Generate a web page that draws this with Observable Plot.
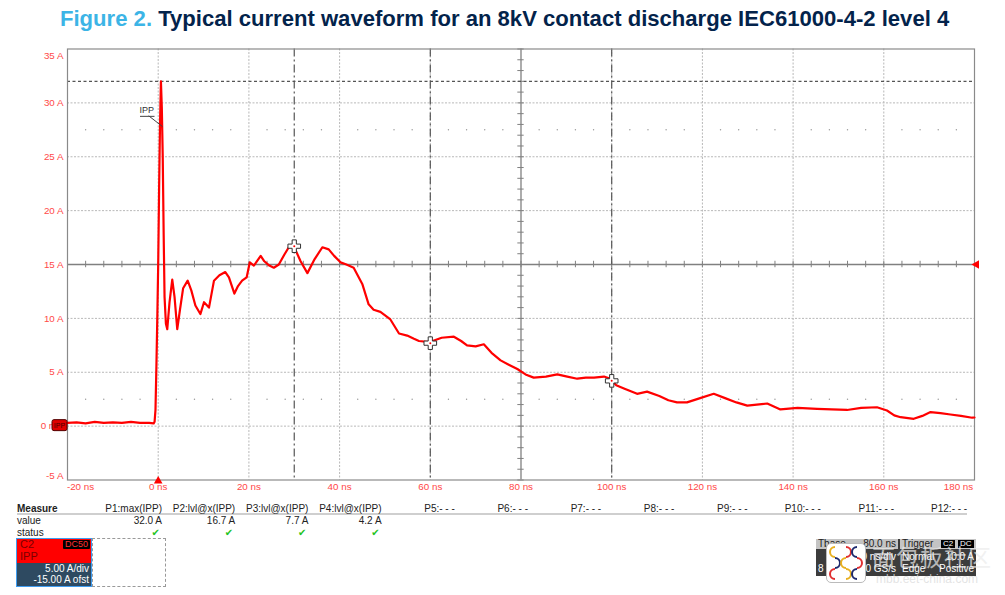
<!DOCTYPE html>
<html><head><meta charset="utf-8">
<script src="https://cdn.jsdelivr.net/npm/d3@7"></script>
<script src="https://cdn.jsdelivr.net/npm/@observablehq/plot@0.6"></script>
<style>
body{margin:0;background:#fff;font-family:"Liberation Sans",Arial,sans-serif;}
#wrap{position:relative;width:1005px;height:595px;overflow:hidden;background:#fff;}
#title{position:absolute;left:60px;top:6px;white-space:nowrap;font-weight:bold;font-size:20px;line-height:26px;}
#chart{position:absolute;left:0;top:40px;}
.t{position:absolute;font-size:10px;line-height:12px;color:#222;white-space:nowrap;}
</style></head>
<body><div id="wrap">
<div id="title"><span style="color:#3cb4e6">Figure 2.</span> <span style="color:#03234b">Typical current waveform for an 8kV contact discharge IEC61000-4-2 level 4</span></div>
<div id="chart"></div>
</div>
<script>
// ---- waveform data (time in ns, current in A) ----
const timeNs = [-20,-18,-16,-14,-12,-10,-8,-6,-4,-2,-1,-0.8,-0.6,-0.4,-0.2,0.0,0.2,0.4,0.6,0.8,1.0,1.2,1.4,1.7,2.0,2.5,3.1,3.6,4.2,4.8,5.5,6.5,7.3,8.2,9.3,10.1,11.2,12.3,13.5,14.8,15.6,16.8,17.6,18.5,19.5,20.2,21.1,22.6,23.4,24.5,25.5,26.6,27.8,28.8,29.9,31.4,32.9,34.5,36.2,37.6,38.8,40.2,41.5,43.1,45.0,46.4,47.5,49.0,51.2,53.1,54.9,56.4,57.5,59.9,62.5,65.2,66.8,68.1,70.0,71.8,73.5,75.5,77.3,79.2,81.0,82.8,85.5,88.0,90.2,92.4,94.3,96.1,98.3,99.7,101.0,102.7,105.6,107.8,110.5,112.5,114.4,116.6,119.5,122.5,125.0,127.5,129.9,132.0,134.3,137.2,141.0,145.3,148.5,151.9,155.0,158.5,160.7,162.3,163.7,166.6,168.5,170.3,172.5,174.7,177.0,179.5,180.0];
const currentA = [0.3,0.35,0.25,0.4,0.3,0.35,0.3,0.4,0.3,0.3,0.25,0.4,1.5,5.5,10,15,22,28,32.0,29.5,25,18,12,9.5,9.0,11.5,13.6,12.0,9.0,10.8,12.8,13.5,12.6,11.2,10.4,11.5,11.0,13.5,14.0,14.3,13.8,12.3,13.0,13.5,13.8,15.2,14.9,15.8,15.3,14.9,14.7,15.0,15.9,16.6,16.7,15.3,14.2,15.5,16.6,16.4,15.8,15.2,15.0,14.7,13.2,11.3,10.8,10.6,9.9,8.6,8.4,8.1,7.9,7.8,8.2,8.3,7.9,7.5,7.4,7.6,6.8,6.1,5.7,5.3,4.8,4.5,4.6,4.8,4.6,4.4,4.5,4.5,4.6,4.4,3.8,3.5,3.0,3.2,2.8,2.4,2.2,2.2,2.6,3.0,2.6,2.2,1.9,2.0,2.1,1.55,1.7,1.6,1.55,1.5,1.7,1.75,1.45,1.0,0.83,0.68,0.95,1.3,1.2,1.08,0.95,0.78,0.8];

// ---- axes / grid values ----
const xTickValues = [-20,0,20,40,60,80,100,120,140,160,180];
const yTickValues = [35,30,25,20,15,10,5,0,-5];
const xGridValues = [0,20,40,60,100,120,140,160];
const yGridValues = [0,5,10,20,25,30];
const xCenter = 80, yCenter = 15;
const dotRowsA = [27.5,2.5];
const maxLevelA = 32.0;
const cursorTimesNs = [30,60,100];
const cursorLevelsA = [16.7,7.7,4.2];

// ---- measurement table ----
const measureHeaders = ["P1:max(IPP)","P2:lvl@x(IPP)","P3:lvl@x(IPP)","P4:lvl@x(IPP)","P5:- - -","P6:- - -","P7:- - -","P8:- - -","P9:- - -","P10:- - -","P11:- - -","P12:- - -"];
const measureValues = ["32.0 A","16.7 A","7.7 A","4.2 A"];
const channelInfo = ["C2","IPP","DC50","5.00 A/div","-15.00 A ofst"];
const timebaseInfo = ["Tbase","-80.0 ns","Trigger","C2","DC","20.0 ns/div","Normal","10.0 A","8 kS","40 GS/s","Edge","Positive"];

const data = timeNs.map((t,i)=>({t, a: currentA[i]}));
const minorX = d3.range(-20, 181, 4);
const minorXDots = minorX.filter(v => v % 20 !== 0);
const minorY = d3.range(-5, 35.01, 1);
const dotGrid = dotRowsA.flatMap(y => minorXDots.map(x => ({x, y})));
const cursors = cursorTimesNs.map((t,i)=>({t, a: cursorLevelsA[i]}));
const labRed = "#ff4848";
const yFmt = d => d === 0 ? "0 mA" : d + " A";

const chart = Plot.plot({
  width: 1005, height: 460,
  marginLeft: 67, marginRight: 31, marginTop: 8.5, marginBottom: 20.5,
  x: {domain: [-20, 180], axis: null},
  y: {domain: [-5, 35], axis: null},
  style: {fontFamily: "'Liberation Sans', Arial, sans-serif", fontSize: "9.8px", background: "transparent"},
  marks: [
    Plot.ruleX(xGridValues, {stroke: "#b8b8b8", strokeDasharray: "2,1.5", strokeWidth: 1}),
    Plot.ruleY(yGridValues, {stroke: "#b8b8b8", strokeDasharray: "2,1.5", strokeWidth: 1}),
    Plot.dot(dotGrid, {x: "x", y: "y", r: 0.7, fill: "#999", stroke: null}),
    Plot.ruleY([yCenter], {stroke: "#808080", strokeWidth: 1.3}),
    Plot.ruleX([xCenter], {stroke: "#808080", strokeWidth: 1.3}),
    Plot.ruleX(minorX, {x: d => d, y1: yCenter - 0.3, y2: yCenter + 0.3, stroke: "#808080"}),
    Plot.ruleY(minorY, {y: d => d, x1: xCenter - 0.7, x2: xCenter + 0.7, stroke: "#808080"}),
    Plot.ruleY([maxLevelA], {stroke: "#555", strokeDasharray: "3,2.5", strokeWidth: 1.1}),
    Plot.ruleX(cursorTimesNs, {stroke: "#555", strokeDasharray: "8,3,2,3", strokeWidth: 1.2}),
    Plot.frame({stroke: "#8a8a8a", strokeWidth: 1.2}),
    Plot.line(data, {x: "t", y: "a", stroke: "#ff0000", strokeWidth: 2.2, strokeLinejoin: "round", curve: "linear"}),
    Plot.dot(cursors, {x: "t", y: "a", symbol: "cross", r: 5.3, fill: "white", stroke: "#333", strokeWidth: 1}),
    Plot.dot(cursors, {x: "t", y: "a", r: 1, fill: "#ff0000", stroke: null}),
    // IPP annotation
    Plot.text(["IPP"], {x: -2.5, y: 29.3, text: d => d, fill: "#333", fontSize: 9}),
    Plot.ruleY([28.75], {x1: -3.9, x2: -0.7, stroke: "#444", strokeWidth: 1}),
    Plot.link([0], {x1: -2.1, y1: 28.8, x2: 0.95, y2: 27.8, stroke: "#444", strokeWidth: 1}),
    // y tick labels
    Plot.text(yTickValues.filter(d => d !== 35 && d !== -5), {x: -20, y: d => d, text: yFmt, textAnchor: "end", dx: -4, fill: labRed}),
    Plot.text([35], {x: -20, y: d => d, text: yFmt, textAnchor: "end", dx: -4, dy: 7, fill: labRed}),
    Plot.text([-5], {x: -20, y: d => d, text: yFmt, textAnchor: "end", dx: -4, dy: -4.5, fill: labRed}),
    // x tick labels
    Plot.text(xTickValues.filter(d => d !== -20 && d !== 180), {x: d => d, y: -5, text: d => d + " ns", dy: 7, fill: labRed}),
    Plot.text([-20], {x: d => d, y: -5, text: d => d + " ns", dy: 7, dx: 13, fill: labRed}),
    Plot.text([180], {x: d => d, y: -5, text: d => d + " ns", dy: 7, dx: -16, fill: labRed}),
    // markers: trigger position (bottom), trigger level (right)
    Plot.dot([0], {x: d => d, y: -5, symbol: "triangle", r: 3.2, fill: "#ff0000", stroke: null, dy: 1}),
    Plot.dot([15], {x: 180, y: d => d, symbol: "triangle", r: 3.2, fill: "#ff0000", stroke: null, rotate: -90, dx: 2})
  ]
});
document.getElementById("chart").appendChild(chart);

// fit title width to the reference span
const title = document.getElementById("title");
title.style.fontSize = (20 * 890 / title.getBoundingClientRect().width) + "px";

// channel zero badge on left edge
const svg = d3.select(chart);
const yz = chart.scale("y").apply(0), xl = chart.scale("x").apply(-20);
const badge = svg.append("g");
badge.append("rect").attr("x", xl - 15).attr("y", yz - 6).attr("width", 15).attr("height", 11).attr("rx", 2)
  .attr("fill", "#e00000").attr("stroke", "#500").attr("stroke-width", 1);
badge.append("text").attr("x", xl - 7.5).attr("y", yz + 2.5).attr("text-anchor", "middle")
  .attr("font-size", 7).attr("fill", "#400").text(channelInfo[1]);

// ---- HTML overlays: measurement table and info boxes ----
const wrap = document.getElementById("wrap");
function addDiv(html, css){ const d = document.createElement("div"); d.className = "t"; d.innerHTML = html; Object.assign(d.style, css); wrap.appendChild(d); return d; }
addDiv("Measure", {left: "17px", top: "503px", fontWeight: "bold"});
addDiv("", {left: "17px", top: "513px", width: "950px", height: "2px", background: "#cfcfcf"});
addDiv("value", {left: "17px", top: "515px"});
addDiv("status", {left: "17px", top: "527px"});
measureHeaders.forEach((h, i) => {
  const right = 162 + i * 73.2;
  addDiv(h, {left: (right - 100) + "px", width: "100px", textAlign: "right", top: "503px"});
  if (i < measureValues.length) {
    addDiv(measureValues[i], {left: (right - 100) + "px", width: "100px", textAlign: "right", top: "515px"});
    addDiv("\u2714", {left: (right - 100) + "px", width: "98px", textAlign: "right", top: "527px", color: "#22c322", fontFamily: "DejaVu Sans", fontSize: "10px"});
  }
});
// channel box
addDiv("", {left: "16px", top: "538px", width: "74px", height: "47px", border: "1px solid #3f9cf0", background: "#2e4a61"});
addDiv("", {left: "17px", top: "539px", width: "74px", height: "24px", background: "#ff0000"});
addDiv(channelInfo[0], {left: "20px", top: "538px", color: "#7a0000", fontSize: "11px"});
addDiv(channelInfo[1], {left: "20px", top: "550px", color: "#7a0000", fontSize: "11px"});
addDiv(channelInfo[2], {left: "63px", top: "540px", background: "#000", color: "#ff3030", fontSize: "9px", lineHeight: "9px", padding: "0 2px", borderRadius: "1px"});
addDiv(channelInfo[3], {left: "17px", width: "72px", textAlign: "right", top: "563px", color: "#fff"});
addDiv(channelInfo[4], {left: "17px", width: "72px", textAlign: "right", top: "574px", color: "#fff"});
addDiv("", {left: "92px", top: "538px", width: "72px", height: "47px", border: "1px dashed #999"});
// timebase box
addDiv("", {left: "816px", top: "539px", width: "160px", height: "37px", background: "#3c3c3c"});
addDiv("", {left: "816px", top: "539px", width: "82px", height: "10px", background: "#c4c4c4"});
addDiv("", {left: "900px", top: "539px", width: "76px", height: "10px", background: "#c4c4c4"});
const tb = timebaseInfo;
addDiv(tb[0], {left: "818px", top: "538px", fontSize: "10px", color: "#222"});
addDiv(tb[1], {left: "798px", width: "98px", textAlign: "right", top: "538px", color: "#222"});
addDiv(tb[2], {left: "902px", top: "538px", color: "#222"});
addDiv(tb[3], {left: "941px", top: "540px", background: "#000", color: "#fff", fontSize: "8px", lineHeight: "8px", padding: "0 2px"});
addDiv(tb[4], {left: "958px", top: "540px", background: "#000", color: "#fff", fontSize: "8px", lineHeight: "8px", padding: "0 2px"});
addDiv(tb[5], {left: "798px", width: "98px", textAlign: "right", top: "551px", color: "#fff"});
addDiv(tb[6], {left: "902px", top: "551px", color: "#fff"});
addDiv(tb[7], {left: "876px", width: "98px", textAlign: "right", top: "551px", color: "#fff"});
addDiv(tb[8], {left: "818px", top: "563px", color: "#fff"});
addDiv(tb[9], {left: "798px", width: "98px", textAlign: "right", top: "563px", color: "#fff"});
addDiv(tb[10], {left: "902px", top: "563px", color: "#fff"});
addDiv(tb[11], {left: "876px", width: "98px", textAlign: "right", top: "563px", color: "#fff"});
// watermark
const logo = addDiv("", {left: "826px", top: "543px", width: "38px", height: "38px", background: "#fff", borderRadius: "5px", border: "1px solid #bbb"});
const ls = d3.select(logo).append("svg").attr("width", 38).attr("height", 38);
const arcCols = [["#e8b020","#e03030","#1e2a6e"],["#1e2a6e","#e8b020","#e03030"],["#e03030","#e8b020","#1e2a6e"]];
arcCols.forEach((row, r) => row.forEach((c, k) => {
  ls.append("path").attr("d", d3.arc()({innerRadius: 4, outerRadius: 6, startAngle: (r + k) % 2 ? 0 : Math.PI, endAngle: (r + k) % 2 ? Math.PI : 2 * Math.PI}))
    .attr("transform", `translate(${8 + k * 11},${8 + r * 11})`).attr("fill", c);
}));
addDiv("面包板社区", {left: "872px", top: "543px", fontSize: "23px", lineHeight: "26px", color: "rgba(235,235,235,0.7)", fontFamily: "'Noto Sans CJK SC'", letterSpacing: "1px"});
addDiv("mbb.eet-china.com", {left: "876px", top: "573px", fontSize: "12px", color: "rgba(220,220,220,0.8)"});
</script>
</body></html>
